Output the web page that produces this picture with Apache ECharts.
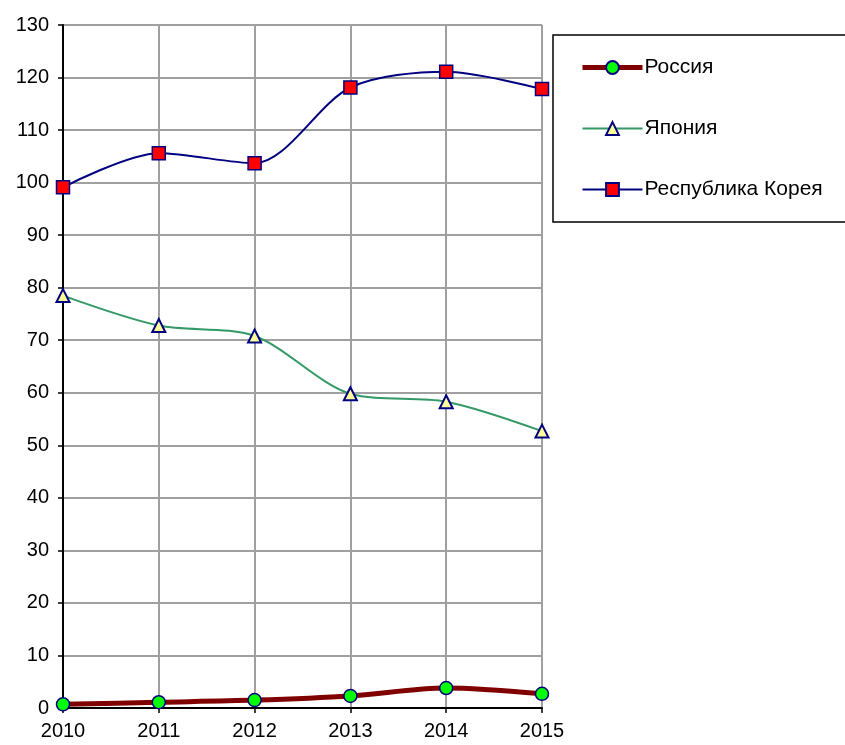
<!DOCTYPE html>
<html>
<head>
<meta charset="utf-8">
<script src="https://cdn.jsdelivr.net/npm/echarts@6/dist/echarts.min.js"></script>
<style>
html,body{margin:0;padding:0;background:#fff;}
#chart{width:845px;height:745px;}
</style>
</head>
<body>
<div id="chart"></div>
<script>
const years = ['2010','2011','2012','2013','2014','2015'];
const russia = [0.7, 1.1, 1.5, 2.3, 3.8, 2.7];
const japan = [78.5, 72.8, 70.8, 59.8, 58.3, 52.7];
const korea = [99.1, 105.6, 103.7, 118.1, 121.1, 117.8];
const seriesNames = ['Россия', 'Япония', 'Республика Корея'];

const font = 'Liberation Sans, Arial, sans-serif';
const chart = echarts.init(document.getElementById('chart'));
chart.setOption({
  animation: false,
  backgroundColor: '#fff',
  textStyle: { fontFamily: font },
  grid: { left: 63, right: 303, top: 25, bottom: 37 },
  graphic: [{
    type: 'rect',
    shape: { x: 553, y: 35, width: 300, height: 187 },
    style: { fill: '#fff', stroke: '#000', lineWidth: 1.5 },
    z: 0
  }],
  legend: {
    orient: 'vertical',
    left: 580,
    top: 57,
    padding: 0,
    itemWidth: 60,
    itemHeight: 16,
    itemGap: 40,
    textStyle: { fontFamily: font, fontSize: 21, color: '#000', padding: [0, 0, 0, -3] },
    data: [
      { name: seriesNames[0], lineStyle: { width: 5 } },
      { name: seriesNames[1], lineStyle: { width: 2 } },
      { name: seriesNames[2], lineStyle: { width: 2 } }
    ],
    z: 10
  },
  xAxis: {
    type: 'category',
    data: years,
    boundaryGap: false,
    axisLine: { lineStyle: { color: '#000', width: 2 } },
    axisTick: { show: true, length: 5, lineStyle: { color: '#000', width: 1.5 } },
    axisLabel: { color: '#000', fontSize: 20, fontFamily: font, margin: 13 },
    splitLine: { show: true, lineStyle: { color: '#a0a0a0', width: 2 } }
  },
  yAxis: {
    type: 'value',
    min: 0, max: 130, interval: 10,
    axisLine: { show: true, lineStyle: { color: '#000', width: 2 } },
    axisTick: { show: true, length: 5, lineStyle: { color: '#000', width: 1.5 } },
    axisLabel: { color: '#000', fontSize: 20, fontFamily: font, margin: 14 },
    splitLine: { show: true, lineStyle: { color: '#a0a0a0', width: 2 } }
  },
  series: [
    {
      name: seriesNames[0], type: 'line', data: russia, smooth: 0.3,
      symbol: 'circle', symbolSize: 13,
      lineStyle: { color: '#800000', width: 5 },
      itemStyle: { color: '#00ff00', borderColor: '#000080', borderWidth: 1.5 },
      z: 5
    },
    {
      name: seriesNames[1], type: 'line', data: japan, smooth: 0.3,
      symbol: 'triangle', symbolSize: 13,
      lineStyle: { color: '#339966', width: 2 },
      itemStyle: { color: '#ffff99', borderColor: '#000080', borderWidth: 2 },
      z: 4
    },
    {
      name: seriesNames[2], type: 'line', data: korea, smooth: 0.3,
      symbol: 'rect', symbolSize: 13,
      lineStyle: { color: '#000080', width: 2 },
      itemStyle: { color: '#ff0000', borderColor: '#000080', borderWidth: 1.5 },
      z: 3
    }
  ]
});
</script>
</body>
</html>
